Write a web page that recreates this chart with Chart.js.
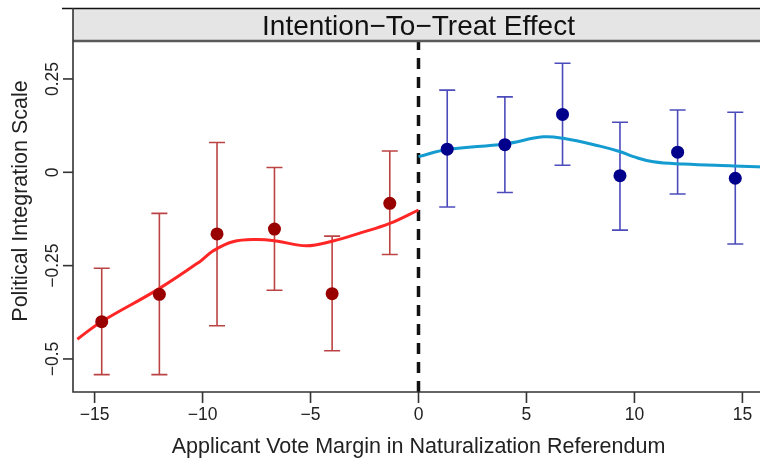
<!DOCTYPE html>
<html>
<head>
<meta charset="utf-8">
<script src="https://cdn.jsdelivr.net/npm/chart.js@4.4.1/dist/chart.umd.min.js"></script>
<style>
  html, body { margin: 0; padding: 0; background: #fff; overflow: hidden; }
  #wrap { width: 764px; height: 458px; }
</style>
</head>
<body>
<div id="wrap"><canvas id="itt" width="764" height="458"></canvas></div>
<script>
// binned means with 95% intervals, below and above the threshold
const binsBelow = [-14.67, -12, -9.33, -6.67, -4, -1.33];
const meanBelow = [-0.400, -0.327, -0.165, -0.152, -0.325, -0.083];
const lowBelow = [-0.542, -0.542, -0.411, -0.316, -0.478, -0.220];
const highBelow = [-0.257, -0.110, 0.080, 0.013, -0.171, 0.057];

const binsAbove = [1.33, 4, 6.67, 9.33, 12, 14.67];
const meanAbove = [0.062, 0.074, 0.155, -0.009, 0.054, -0.016];
const lowAbove = [-0.093, -0.054, 0.019, -0.155, -0.058, -0.192];
const highAbove = [0.220, 0.202, 0.292, 0.134, 0.167, 0.161];

// loess fits on each side
const fitBelowX = [-15.8, -14.7, -12.05, -10.1, -9.52, -8.6, -7.5, -6.58, -5.19, -3.96, -2.72, -1.33, 0];
const fitBelowY = [-0.447, -0.401, -0.313, -0.238, -0.211, -0.186, -0.180, -0.184, -0.197, -0.184, -0.163, -0.137, -0.101];
const fitAboveX = [0, 1.33, 4.0, 5.78, 6.7, 8.4, 9.35, 9.95, 10.88, 12.27, 14.6, 16];
const fitAboveY = [0.042, 0.061, 0.076, 0.095, 0.091, 0.070, 0.055, 0.042, 0.028, 0.022, 0.017, 0.014];

const xTicks = [-15, -10, -5, 0, 5, 10, 15];
const yTicks = [-0.5, -0.25, 0, 0.25];

const panelTitle = 'Intention\u2212To\u2212Treat Effect';
const xTitle = 'Applicant Vote Margin in Naturalization Referendum';
const yTitle = 'Political Integration Scale';

const FONT = '"Liberation Sans", Arial, sans-serif';
const fmt = v => (v < 0 ? '\u2212' : '') + Math.abs(v);
const pts = (xs, ys) => xs.map((x, i) => ({ x: x, y: ys[i] }));

function drawErrorBars(ctx, xScale, yScale, xs, lo, hi, color) {
    ctx.save();
    ctx.strokeStyle = color;
    ctx.lineWidth = 1.6;
    xs.forEach((v, i) => {
        const px = xScale.getPixelForValue(v);
        const top = yScale.getPixelForValue(hi[i]);
        const bot = yScale.getPixelForValue(lo[i]);
        ctx.beginPath();
        ctx.moveTo(px, top); ctx.lineTo(px, bot);
        ctx.moveTo(px - 8, top); ctx.lineTo(px + 8, top);
        ctx.moveTo(px - 8, bot); ctx.lineTo(px + 8, bot);
        ctx.stroke();
    });
    ctx.restore();
}

const underlay = {
    id: 'underlay',
    beforeDatasetsDraw(chart) {
        const { ctx, chartArea: a, scales: { x, y } } = chart;
        drawErrorBars(ctx, x, y, binsBelow, lowBelow, highBelow, 'rgba(170, 20, 20, 0.8)');
        drawErrorBars(ctx, x, y, binsAbove, lowAbove, highAbove, 'rgba(30, 30, 170, 0.8)');

        // threshold
        const x0 = x.getPixelForValue(0);
        ctx.save();
        ctx.strokeStyle = '#111';
        ctx.lineWidth = 3.5;
        ctx.setLineDash([11, 8]);
        ctx.beginPath();
        ctx.moveTo(x0, a.bottom);
        ctx.lineTo(x0, a.top);
        ctx.stroke();
        ctx.restore();
    }
};

const frame = {
    id: 'frame',
    afterDraw(chart) {
        const { ctx, chartArea: a, scales: { x, y } } = chart;
        const stripTop = a.top - 34;
        ctx.save();

        // strip with panel title
        ctx.fillStyle = '#e5e5e5';
        ctx.fillRect(a.left, stripTop, a.right - a.left, 34);
        ctx.strokeStyle = '#5a5a5a';
        ctx.lineWidth = 2.5;
        ctx.beginPath();
        ctx.moveTo(a.left, a.top - 1);
        ctx.lineTo(a.right, a.top - 1);
        ctx.stroke();
        ctx.strokeStyle = '#111';
        ctx.lineWidth = 1.5;
        ctx.beginPath();
        ctx.moveTo(a.left - 11, stripTop + 0.5);
        ctx.lineTo(a.right, stripTop + 0.5);
        ctx.stroke();

        ctx.fillStyle = '#111';
        ctx.font = '28px ' + FONT;
        ctx.textAlign = 'center';
        ctx.textBaseline = 'alphabetic';
        ctx.fillText(panelTitle, (a.left + a.right) / 2, stripTop + 27);

        // axis lines
        ctx.strokeStyle = '#333';
        ctx.lineWidth = 1.6;
        ctx.beginPath();
        ctx.moveTo(a.left, stripTop);
        ctx.lineTo(a.left, a.bottom);
        ctx.lineTo(a.right, a.bottom);
        ctx.stroke();

        // x ticks and labels
        ctx.font = '17.5px ' + FONT;
        ctx.fillStyle = '#222';
        ctx.textBaseline = 'middle';
        xTicks.forEach(v => {
            const px = x.getPixelForValue(v);
            ctx.beginPath();
            ctx.moveTo(px, a.bottom);
            ctx.lineTo(px, a.bottom + 11);
            ctx.stroke();
            ctx.fillText(fmt(v), px, a.bottom + 23);
        });

        // y ticks and labels, parallel to the axis
        yTicks.forEach(v => {
            const py = y.getPixelForValue(v);
            ctx.beginPath();
            ctx.moveTo(a.left - 10, py);
            ctx.lineTo(a.left, py);
            ctx.stroke();
            ctx.save();
            ctx.translate(a.left - 20, py);
            ctx.rotate(-Math.PI / 2);
            ctx.fillText(fmt(v), 0, 0);
            ctx.restore();
        });

        // axis titles
        ctx.font = '21.5px ' + FONT;
        ctx.textBaseline = 'alphabetic';
        ctx.fillText(xTitle, (a.left + a.right) / 2, 453);
        ctx.save();
        ctx.translate(27, (stripTop + a.bottom) / 2 + 1);
        ctx.rotate(-Math.PI / 2);
        ctx.fillText(yTitle, 0, 0);
        ctx.restore();

        ctx.restore();
    }
};

new Chart(document.getElementById('itt'), {
    type: 'scatter',
    data: {
        datasets: [
            {
                data: pts(binsBelow, meanBelow),
                backgroundColor: '#990000',
                borderWidth: 0,
                pointRadius: 6.5,
                order: 0,
            },
            {
                data: pts(binsAbove, meanAbove),
                backgroundColor: '#00008b',
                borderWidth: 0,
                pointRadius: 6.5,
                order: 0,
            },
            {
                type: 'line',
                data: pts(fitBelowX, fitBelowY),
                borderColor: '#ff2626',
                borderWidth: 3,
                pointRadius: 0,
                tension: 0.4,
                order: 1,
            },
            {
                type: 'line',
                data: pts(fitAboveX, fitAboveY),
                borderColor: '#149bd0',
                borderWidth: 3,
                pointRadius: 0,
                tension: 0.4,
                order: 1,
            },
        ],
    },
    options: {
        responsive: false,
        animation: false,
        devicePixelRatio: 1,
        layout: { autoPadding: false, padding: { left: 73, right: 0, top: 42, bottom: 66 } },
        plugins: { legend: { display: false }, tooltip: { enabled: false } },
        scales: {
            x: { type: 'linear', min: -16, max: 16, display: false },
            y: { type: 'linear', min: -0.5885, max: 0.349, display: false },
        },
    },
    plugins: [underlay, frame],
});
</script>
</body>
</html>
